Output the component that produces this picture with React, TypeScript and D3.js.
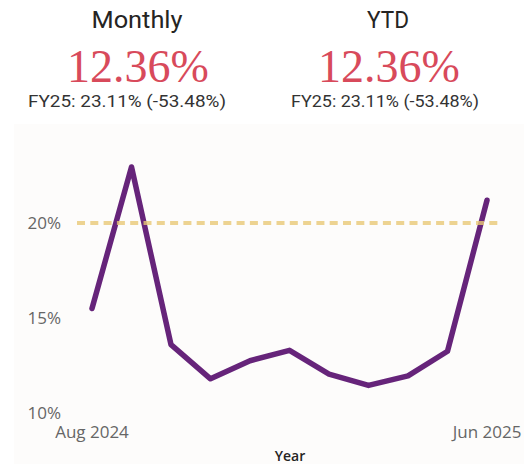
import React from "react";
import * as d3 from "d3";

const months = ["Aug 2024", "Sep 2024", "Oct 2024", "Nov 2024", "Dec 2024", "Jan 2025", "Feb 2025", "Mar 2025", "Apr 2025", "May 2025", "Jun 2025"];
const rates = [15.5, 22.95, 13.6, 11.8, 12.75, 13.3, 12.05, 11.45, 11.95, 13.25, 21.2];
const target = 20;
const yTicks = [10, 15, 20];
const cards = [
  { title: "Monthly", value: "12.36%", sub: "FY25: 23.11% (-53.48%)" },
  { title: "YTD", value: "12.36%", sub: "FY25: 23.11% (-53.48%)" },
];

const W = 524;
const H = 464;

export default function App() {
  const x = d3.scalePoint<string>().domain(months).range([92, 487]);
  const y = d3.scaleLinear().domain([10, 20]).range([413, 223]);
  const line = d3.line<number>()
    .x((_, i) => x(months[i]) as number)
    .y(d => y(d));

  const cardX = [137, 388];
  const titleW = [91, 42];
  const subX = [127, 385];

  return (
    <svg width={W} height={H} style={{ position: "absolute", left: 0, top: 0 }}>
      <rect x={0} y={0} width={W} height={H} fill="#fff" />
      {cards.map((c, i) => (
        <g key={c.title}>
          <text x={cardX[i]} y={28} textAnchor="middle" fontFamily="Roboto, sans-serif" fontSize={24} fill="#252423"
            textLength={titleW[i]} lengthAdjust="spacingAndGlyphs">{c.title}</text>
          <text x={cardX[i] + 1} y={82} textAnchor="middle" fontFamily="'Liberation Serif', serif" fontSize={46} fill="#D84A5B">{c.value}</text>
          <text x={subX[i]} y={107} textAnchor="middle" fontFamily="Roboto, sans-serif" fontSize={16.5} fill="#333"
            textLength={i === 0 ? 198 : 188} lengthAdjust="spacingAndGlyphs">{c.sub}</text>
        </g>
      ))}
      <rect x={14} y={124} width={W - 14} height={H - 124} fill="#FDFCFB" />
      {yTicks.map(t => (
        <text key={t} x={61} y={y(t) + 6} textAnchor="end" fontFamily="'Open Sans', sans-serif" fontSize={17} fill="#666">{t}%</text>
      ))}
      <path d={line(rates) ?? ""} fill="none" stroke="#66247A" strokeWidth={5.5} strokeLinejoin="round" strokeLinecap="round" />
      <line x1={77} x2={502} y1={y(target)} y2={y(target)} stroke="#E9C877" strokeOpacity={0.8} strokeWidth={4} strokeDasharray="8,5.3" />
      {[months[0], months[months.length - 1]].map(m => (
        <text key={m} x={x(m)} y={438} textAnchor="middle" fontFamily="'Open Sans', sans-serif" fontSize={17} fill="#666">{m}</text>
      ))}
      <text x={290} y={461} textAnchor="middle" fontFamily="'Open Sans', sans-serif" fontWeight={600} fontSize={14} fill="#252423">Year</text>
    </svg>
  );
}
